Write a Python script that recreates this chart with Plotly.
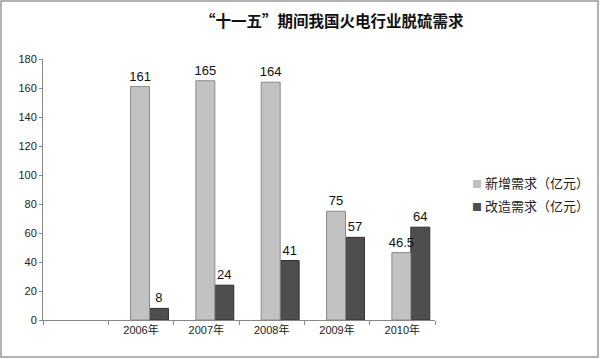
import plotly.graph_objects as go

categories = [" ", "2006年", "2007年", "2008年", "2009年", "2010年"]
new_demand = [None, 161, 165, 164, 75, 46.5]
retrofit_demand = [None, 8, 24, 41, 57, 64]
new_labels = ["", "161", "165", "164", "75", "46.5"]
retrofit_labels = ["", "8", "24", "41", "57", "64"]
series_names = ["新增需求（亿元）", "改造需求（亿元）"]
title_text = "“十一五”期间我国火电行业脱硫需求"

FONT = "Liberation Sans, Noto Sans CJK SC, sans-serif"
CJK = "Noto Sans CJK SC, sans-serif"
LIGHT = "#c2c2c2"
DARK = "#4e4e4e"

fig = go.Figure()
# dark series drawn first so the light series' labels stay on top
fig.add_trace(go.Bar(
    x=categories, y=retrofit_demand, name=series_names[1], showlegend=False,
    text=retrofit_labels, textposition="outside", cliponaxis=False, constraintext="none",
    textfont=dict(size=13, color="#111111", family=FONT),
    marker=dict(color=DARK, line=dict(color="#2e2e2e", width=1)),
    width=0.29, offset=0.13,
))
fig.add_trace(go.Bar(
    x=categories, y=new_demand, name=series_names[0], showlegend=False,
    text=new_labels, textposition="outside", cliponaxis=False, constraintext="none",
    textfont=dict(size=13, color="#111111", family=FONT),
    marker=dict(color=LIGHT, line=dict(color="#8a8a8a", width=1)),
    width=0.29, offset=-0.16,
))
# legend entries: small coloured square glyph placed right before the text
for i, (name, col) in enumerate(zip(series_names, [LIGHT, DARK])):
    fig.add_trace(go.Scatter(
        x=[None], y=[None], mode="markers", legendgroup="g%d" % i,
        name="<span style='color:%s;font-size:10px'>■</span> %s" % (col, name),
        marker=dict(symbol="square", size=1, color="rgba(0,0,0,0)"),
    ))

fig.update_layout(
    width=600, height=359,
    margin=dict(l=43, r=165, t=59, b=39, autoexpand=False),
    paper_bgcolor="white", plot_bgcolor="white",
    font=dict(family=FONT, size=11, color="#222222"),
    title=dict(text="<b>" + title_text + "</b>", x=0.553, xanchor="center", y=0.94, yanchor="middle",
               font=dict(size=15.5, color="#111111", family=CJK)),
    showlegend=True,
    legend=dict(x=(432 - 43) / 392, y=0.48, xanchor="left", yanchor="middle",
                font=dict(size=13, color="#222222", family=CJK),
                traceorder="grouped", itemwidth=30, tracegroupgap=3, bgcolor="rgba(0,0,0,0)"),
    barmode="overlay",
    xaxis=dict(type="category", categoryorder="array", categoryarray=categories,
               range=[-0.5, 5.5],
               showline=True, linecolor="#888888", linewidth=1,
               ticks="outside", tickson="boundaries", ticklen=4, tickcolor="#888888",
               tickfont=dict(size=11, color="#222222"), showgrid=False, zeroline=False),
    yaxis=dict(range=[0, 180], dtick=20, showline=True, linecolor="#888888", linewidth=1,
               ticks="outside", ticklen=3, tickcolor="#888888", showgrid=False, zeroline=False,
               tickfont=dict(size=11, color="#222222")),
    shapes=[dict(type="rect", xref="paper", yref="paper",
                 x0=(1 - 43) / 392, x1=(598 - 43) / 392,
                 y0=(320 - 357) / 261, y1=(320 - 1) / 261,
                 line=dict(color="#999999", width=1.5), fillcolor="rgba(0,0,0,0)")],
)

fig.write_html("out.html", config={"displayModeBar": False},
               post_script="document.body.style.margin='0';")
